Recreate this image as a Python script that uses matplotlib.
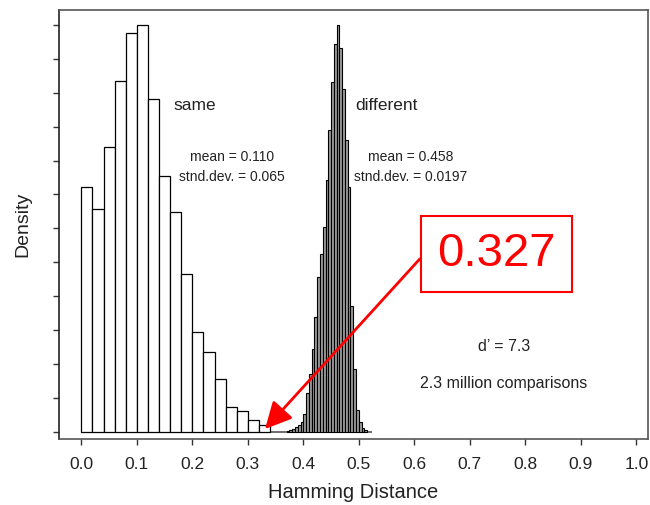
import numpy as np
import matplotlib
matplotlib.use("Agg")
import matplotlib.pyplot as plt

plt.rcParams['font.family'] = ['Liberation Sans', 'DejaVu Sans']

# histogram of "same" comparisons (bins of 0.02 starting at 0)
same_start = 0.0
same_width = 0.02
same_height = [7.21, 6.56, 8.41, 10.36, 11.76, 12.0, 9.82, 7.54, 6.48,
               4.64, 2.94, 2.34, 1.55, 0.73, 0.60, 0.36, 0.20]

# histogram of "different" comparisons (bins of 0.005 starting at 0.37)
diff_start = 0.370
diff_width = 0.005
diff_height = [0.03, 0.04, 0.09, 0.15, 0.21, 0.29, 0.53, 1.15, 1.71, 2.45,
               3.39, 4.57, 5.25, 6.05, 7.43, 8.91, 10.32, 11.45, 12.0, 11.33,
               10.12, 8.61, 7.23, 3.72, 1.86, 0.65, 0.29, 0.12, 0.04]

baseline_end = 0.523
criterion = 0.327
x_ticks = np.round(np.arange(0, 1.01, 0.1), 1)
y_ticks = np.arange(0, 13)

same_x = same_start + same_width * np.arange(len(same_height))
diff_x = diff_start + diff_width * np.arange(len(diff_height))

txt = '#222222'
fig = plt.figure(figsize=(6.5, 5.05), dpi=100)
ax = fig.add_axes([0.0908, 0.130, 0.906, 0.850])

ax.hlines(0, same_start, baseline_end, color='#555555', lw=1.2, zorder=1)
ax.bar(same_x, same_height, width=same_width, align='edge',
       facecolor='white', edgecolor='black', linewidth=0.9, zorder=2)
ax.bar(diff_x, diff_height, width=diff_width, align='edge',
       facecolor='#9a9a9a', edgecolor='black', linewidth=0.8, zorder=2)

ax.set_xlim(-0.0402, 1.021)
ax.set_ylim(-0.224, 12.44)
ax.set_xticks(x_ticks)
ax.set_xticklabels([f'{v:.1f}' for v in x_ticks])
ax.set_yticks(y_ticks)
ax.set_yticklabels([])
ax.tick_params(axis='both', direction='out', length=4.5, width=1,
               colors='#333333', labelsize=12.5, labelcolor=txt)
ax.tick_params(axis='x', pad=8)
for s in ax.spines.values():
    s.set_color('#555555')
    s.set_linewidth(1.2)
ax.spines['left'].set_color('#222222')

ax.set_xlabel('Hamming Distance', fontsize=14.5, color=txt, labelpad=8)
ax.set_ylabel('Density', fontsize=14, color=txt, labelpad=12)

# labels and stats
ax.text(0.166, 9.64, 'same', fontsize=12.5, color=txt, va='center')
ax.text(0.493, 9.64, 'different', fontsize=12.5, color=txt, va='center')
ax.text(0.271, 8.11, 'mean = 0.110', fontsize=10, color=txt,
        ha='center', va='center')
ax.text(0.271, 7.52, 'stnd.dev. = 0.065', fontsize=10, color=txt,
        ha='center', va='center')
ax.text(0.594, 8.11, 'mean = 0.458', fontsize=10, color=txt,
        ha='center', va='center')
ax.text(0.594, 7.52, 'stnd.dev. = 0.0197', fontsize=10, color=txt,
        ha='center', va='center')
ax.text(0.761, 2.51, 'd\u2019 = 7.3', fontsize=11.5, color=txt,
        ha='center', va='center')
ax.text(0.761, 1.41, '2.3 million comparisons', fontsize=11.5, color=txt,
        ha='center', va='center')

# red call-out for the decision criterion
ax.annotate('', xy=(criterion + 0.004, 0.08), xytext=(0.610, 5.10),
            arrowprops=dict(arrowstyle='-|>,head_length=0.9,head_width=0.45',
                            color='red', lw=2, mutation_scale=18,
                            shrinkA=0, shrinkB=0))
ax.text(0.748, 5.24, f'{criterion:.3f}', fontsize=34, color='red',
        ha='center', va='center', zorder=5,
        bbox=dict(boxstyle='square,pad=0.34', facecolor='white',
                  edgecolor='red', linewidth=1.5))

fig.savefig('out.png', dpi=100)
